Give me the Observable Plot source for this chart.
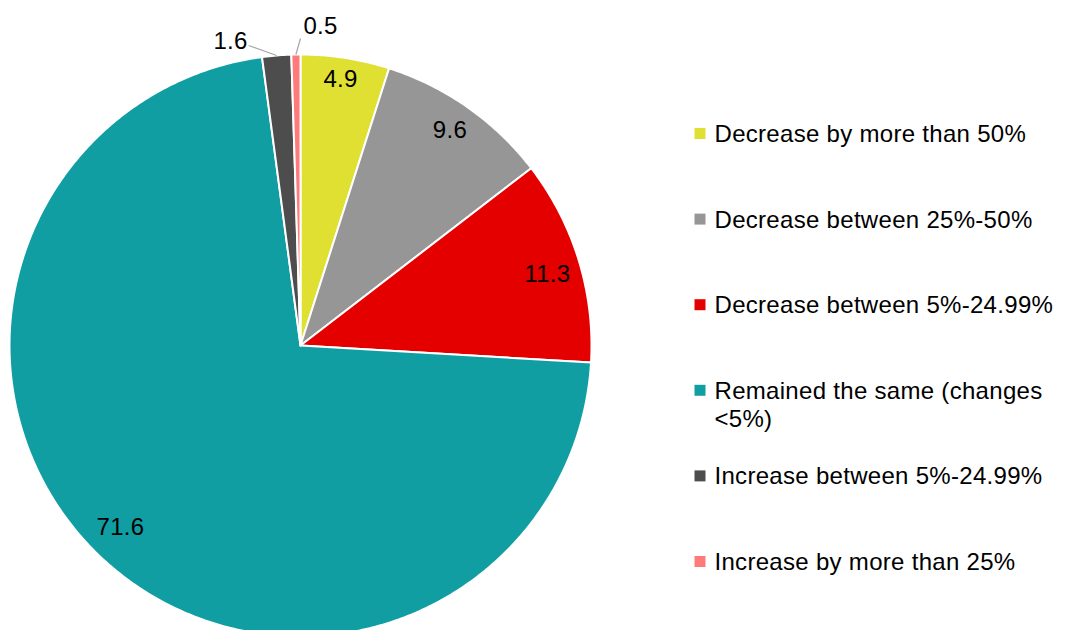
<!DOCTYPE html>
<html>
<head>
<meta charset="utf-8">
<script src="https://cdn.jsdelivr.net/npm/d3@7"></script>
<script src="https://cdn.jsdelivr.net/npm/@observablehq/plot@0.6"></script>
<style>
  html, body { margin: 0; padding: 0; background: #fff; overflow: hidden; }
  #chart svg { display: block; }
  #chart svg text { letter-spacing: 0.3px; }
</style>
</head>
<body>
<div id="chart"></div>
<script>
// ---- Data ----
const categories = [
  "Decrease by more than 50%",
  "Decrease between 25%-50%",
  "Decrease between 5%-24.99%",
  "Remained the same (changes <5%)",
  "Increase between 5%-24.99%",
  "Increase by more than 25%"
];
const legendLabels = [
  "Decrease by more than 50%",
  "Decrease between 25%-50%",
  "Decrease between 5%-24.99%",
  "Remained the same (changes\n<5%)",
  "Increase between 5%-24.99%",
  "Increase by more than 25%"
];
const values = [4.9, 9.6, 11.3, 71.6, 1.6, 0.5];
const valueLabels = ["4.9", "9.6", "11.3", "71.6", "1.6", "0.5"];
const colors = ["#E0E033", "#969696", "#E50000", "#109EA3", "#4D4D4D", "#FF7B7B"];

// ---- Layout ----
const W = 1065, H = 630;
const cx = 300, cy = 345, R = 291;
// inside label placement per slice: radius factor and angle nudge (deg)
const inside = {
  0: {rf: 0.925, dAng: -0.3},
  1: {rf: 0.90, dAng: -0.3},
  2: {rf: 0.883, dAng: 1.0},
  3: {rf: 0.88, dAng: 1.8}
};
// outside labels: leader end (radius factor, angle offset in degrees from slice mid), text placement
const outside = {
  4: {rf: 1.046, dAng: -5.1, anchor: "end"},
  5: {rf: 1.055, dAng: 0.9, anchor: "start"}
};
const legendX = 699.5, legendTextX = 714, legendY0 = 133, legendStep = 85.6;

const rows = categories.map((c, i) => ({name: c, value: values[i], label: valueLabels[i], i}));
const arcs = d3.pie().sort(null).value(d => d.value)(rows);
const pt = (a, r) => [cx + r * Math.sin(a), cy - r * Math.cos(a)];
const deg = Math.PI / 180;

// slice polygons
const poly = [];
arcs.forEach(a => {
  const n = Math.max(2, Math.ceil((a.endAngle - a.startAngle) / (Math.PI / 360)));
  poly.push({name: a.data.name, x: cx, y: cy});
  for (let k = 0; k <= n; k++) {
    const ang = a.startAngle + (a.endAngle - a.startAngle) * k / n;
    const [x, y] = pt(ang, R);
    poly.push({name: a.data.name, x, y});
  }
});

const inLabels = [], outLabels = [], leaders = [];
arcs.forEach((a, idx) => {
  const mid = (a.startAngle + a.endAngle) / 2;
  if (outside[idx]) {
    const o = outside[idx];
    const [x1, y1] = pt(mid, R);
    const [x2, y2] = pt(mid + o.dAng * deg, R * o.rf);
    leaders.push({x1, y1, x2, y2});
    outLabels.push({x: x2, y: y2, label: a.data.label, anchor: o.anchor});
  } else {
    const o = inside[idx];
    const [x, y] = pt(mid + o.dAng * deg, R * o.rf);
    inLabels.push({x, y, label: a.data.label});
  }
});

const legend = categories.map((c, i) => ({name: c, text: legendLabels[i], x: legendX, tx: legendTextX, y: legendY0 + i * legendStep}));

const chart = Plot.plot({
  width: W, height: H, margin: 0,
  x: {domain: [0, W], range: [0, W], axis: null},
  y: {domain: [0, H], range: [0, H], axis: null},
  color: {domain: categories, range: colors},
  style: {fontFamily: "'Liberation Sans', Arial, sans-serif", background: "#fff", color: "#000"},
  marks: [
    Plot.line(poly, {x: "x", y: "y", z: "name", fill: "name", stroke: "#fff", strokeWidth: 2, strokeLinejoin: "round", curve: "linear-closed"}),
    Plot.link(leaders, {x1: "x1", y1: "y1", x2: "x2", y2: "y2", stroke: "#A6A6A6", strokeWidth: 1.2}),
    Plot.text(inLabels, {x: "x", y: "y", text: "label", fontSize: 24, fill: "#000", textAnchor: "middle", lineAnchor: "middle"}),
    Plot.text(outLabels.filter(d => d.anchor === "end"), {x: "x", y: "y", text: "label", fontSize: 24, fill: "#000", textAnchor: "end", lineAnchor: "bottom", dx: -1, dy: 3}),
    Plot.text(outLabels.filter(d => d.anchor === "start"), {x: "x", y: "y", text: "label", fontSize: 24, fill: "#000", textAnchor: "start", lineAnchor: "bottom", dx: 3, dy: -4}),
    Plot.dot(legend, {x: "x", y: "y", fill: "name", symbol: "square", r: 6.2, stroke: null}),
    Plot.text(legend, {x: "tx", y: "y", text: "text", fontSize: 24, fill: "#000", textAnchor: "start", lineAnchor: "top", lineHeight: 1.18, dy: -11.7})
  ]
});
document.getElementById("chart").appendChild(chart);
</script>
</body>
</html>
